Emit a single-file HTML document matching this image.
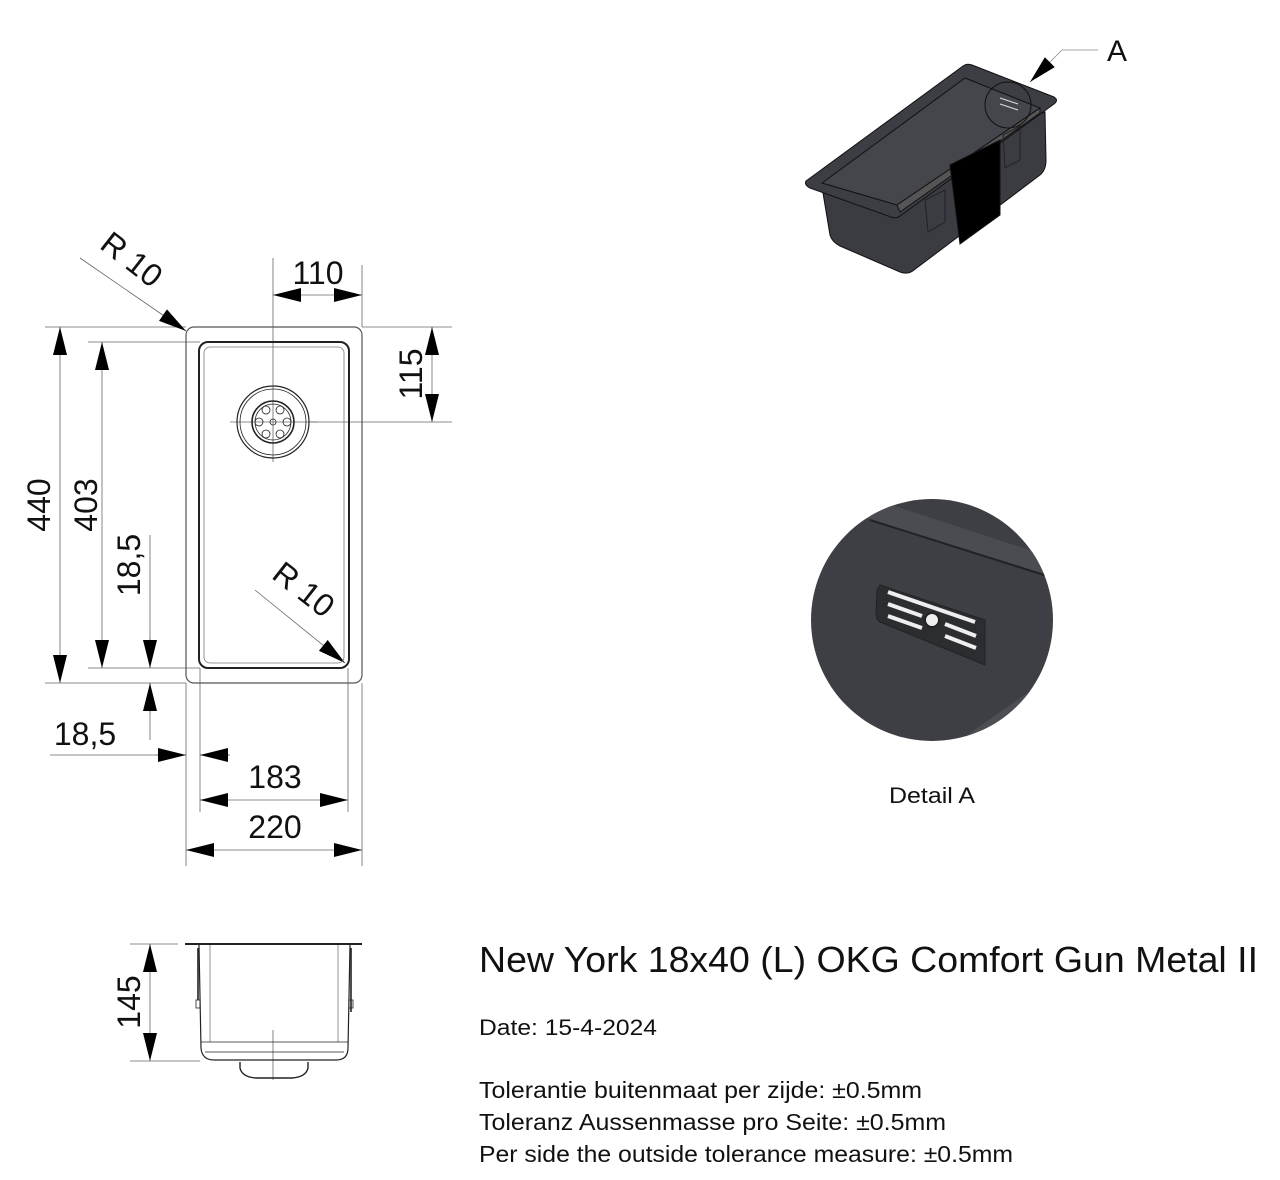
<!DOCTYPE html>
<html><head><meta charset="utf-8"><style>
html,body{margin:0;padding:0;background:#fff;width:1280px;height:1180px;overflow:hidden}
svg{display:block}
text{font-family:"Liberation Sans",Arial,sans-serif;fill:#111}
</style></head><body>
<svg width="1280" height="1180" viewBox="0 0 1280 1180" xmlns="http://www.w3.org/2000/svg">
<defs>
<marker id="a" viewBox="0 0 28 14" refX="28" refY="7" markerWidth="28" markerHeight="14" markerUnits="userSpaceOnUse" orient="auto-start-reverse"><path d="M0,0 L28,7 L0,14 Z" fill="#000"/></marker>
</defs>
<g stroke="#666" stroke-width="0.8" fill="none">
<line x1="273" y1="258" x2="273" y2="462"/>
<line x1="362" y1="265" x2="362" y2="327"/>
<line x1="362" y1="327" x2="452" y2="327"/>
<line x1="310" y1="422" x2="452" y2="422"/>
<line x1="45" y1="327" x2="186" y2="327"/>
<line x1="88" y1="342" x2="200" y2="342"/>
<line x1="88" y1="668" x2="200" y2="668"/>
<line x1="45" y1="683" x2="186" y2="683"/>
<line x1="186" y1="683" x2="186" y2="866"/>
<line x1="362" y1="683" x2="362" y2="866"/>
<line x1="200" y1="668" x2="200" y2="812"/>
<line x1="348" y1="668" x2="348" y2="812"/>
<line x1="150" y1="535" x2="150" y2="668"/>
<line x1="150" y1="683" x2="150" y2="740"/>
<line x1="50" y1="755" x2="186" y2="755"/>
<line x1="200" y1="755" x2="230" y2="755"/>
<line x1="230" y1="422" x2="318" y2="422"/>
<line x1="130" y1="944" x2="178" y2="944"/>
<line x1="130" y1="1061" x2="200" y2="1061"/>
<line x1="273" y1="1030" x2="273" y2="1080"/>
</g>
<g stroke="#666" stroke-width="0.8" fill="none">
<line x1="273" y1="295" x2="362" y2="295" marker-start="url(#a)" marker-end="url(#a)"/>
<line x1="432" y1="327" x2="432" y2="422" marker-start="url(#a)" marker-end="url(#a)"/>
<line x1="60" y1="327" x2="60" y2="683" marker-start="url(#a)" marker-end="url(#a)"/>
<line x1="102" y1="342" x2="102" y2="668" marker-start="url(#a)" marker-end="url(#a)"/>
<line x1="150" y1="638" x2="150" y2="668" marker-end="url(#a)"/>
<line x1="150" y1="713" x2="150" y2="683" marker-end="url(#a)"/>
<line x1="156" y1="755" x2="186" y2="755" marker-end="url(#a)"/>
<line x1="230" y1="755" x2="200" y2="755" marker-end="url(#a)"/>
<line x1="200" y1="800" x2="348" y2="800" marker-start="url(#a)" marker-end="url(#a)"/>
<line x1="186" y1="850" x2="362" y2="850" marker-start="url(#a)" marker-end="url(#a)"/>
<line x1="80" y1="258" x2="186" y2="331" marker-end="url(#a)"/>
<line x1="255" y1="590" x2="345" y2="663" marker-end="url(#a)"/>
<line x1="150" y1="944" x2="150" y2="1061" marker-start="url(#a)" marker-end="url(#a)"/>
</g>
<g fill="none" stroke="#222">
<rect x="186" y="327" width="176" height="356" rx="8" stroke-width="1.2" stroke="#555"/>
<rect x="199" y="342" width="150" height="326" rx="9" stroke-width="2"/>
<rect x="204" y="347" width="140" height="316" rx="6" stroke-width="0.8" stroke="#777"/>
<circle cx="273" cy="422" r="36" stroke-width="1.2"/>
<circle cx="273" cy="422" r="33" stroke-width="0.8"/>
<circle cx="273" cy="422" r="21" stroke-width="1.6"/>
<circle cx="273" cy="422" r="18" stroke-width="0.8"/>
<circle cx="273" cy="422" r="3" stroke-width="0.8"/>
<circle cx="266" cy="410" r="4" stroke-width="0.8"/><circle cx="280" cy="410" r="4" stroke-width="0.8"/>
<circle cx="266" cy="434" r="4" stroke-width="0.8"/><circle cx="280" cy="434" r="4" stroke-width="0.8"/>
<circle cx="259" cy="422" r="4" stroke-width="0.8"/><circle cx="287" cy="422" r="4" stroke-width="0.8"/>
</g>
<g fill="none" stroke="#222">
<line x1="185" y1="944" x2="362" y2="944" stroke-width="2"/>
<path d="M199,945 L201,1048 Q202,1060 214,1060 L336,1060 Q348,1060 348,1048 L350,945" stroke-width="1.2"/>
<line x1="210" y1="945" x2="210" y2="1042" stroke-width="0.8" stroke="#777"/>
<line x1="338" y1="945" x2="338" y2="1042" stroke-width="0.8" stroke="#777"/>
<line x1="201" y1="1042" x2="348" y2="1042" stroke-width="0.8"/>
<line x1="205" y1="1052" x2="344" y2="1052" stroke-width="0.8"/>
<rect x="196" y="1000" width="4" height="8" stroke-width="0.8"/>
<rect x="349" y="1000" width="4" height="8" stroke-width="0.8"/>
<line x1="198" y1="948" x2="198" y2="1000" stroke-width="1.6"/>
<line x1="351" y1="948" x2="351" y2="1012" stroke-width="1.6"/>
<path d="M240,1062 L240,1068 Q242,1077 256,1078 L292,1078 Q306,1077 308,1068 L308,1062" stroke-width="1.4"/>
</g>
<g font-size="32">
<text x="318" y="284" text-anchor="middle">110</text>
<text transform="translate(422,374) rotate(-90)" text-anchor="middle">115</text>
<text transform="translate(50,505) rotate(-90)" text-anchor="middle">440</text>
<text transform="translate(97,505) rotate(-90)" text-anchor="middle">403</text>
<text transform="translate(140,565) rotate(-90)" text-anchor="middle">18,5</text>
<text x="85" y="745" text-anchor="middle">18,5</text>
<text x="275" y="788" text-anchor="middle">183</text>
<text x="275" y="838" text-anchor="middle">220</text>
<text transform="translate(140,1002) rotate(-90)" text-anchor="middle">145</text>
<text transform="translate(125,268) rotate(38)" text-anchor="middle">R   10</text>
<text transform="translate(297,598) rotate(38)" text-anchor="middle">R   10</text>
</g>
<g stroke="#111" stroke-width="1">
<path d="M823,193 L830,235 Q832,242 840,246 L900,272 Q908,275 914,270 L1040,175 Q1046,170 1046,160 L1045,112 Z" fill="#3a3c42"/>
<path d="M806,181 L963,66 Q967,63 972,65 L1054,97 Q1059,100 1054,104 L900,216 Q896,219 891,217 L810,188 Q804,185 806,181 Z" fill="#3c3e44"/>
<path d="M822,183 L965,78 L1040,108 L897,205 Z" fill="#44464c"/>
<path d="M897,205 L1040,108 L1040,113 L900,212 Z" fill="#555"/>
<path d="M950,165 L1000,140 L1000,215 L960,244 Z" fill="#000"/>
<path d="M925,200 L945,190 L945,222 L928,232 Z" fill="none" stroke="#222"/>
<path d="M1003,135 L1020,126 L1020,160 L1005,168 Z" fill="none" stroke="#222"/>
<circle cx="1008" cy="105" r="23" fill="none" stroke="#111"/>
<path d="M1000,98 L1018,104 M1000,104 L1018,110" stroke="#ddd"/>
</g>
<line x1="1098" y1="50" x2="1062" y2="50" stroke="#888" stroke-width="0.8"/>
<line x1="1062" y1="50" x2="1030" y2="82" stroke="#888" stroke-width="0.8" marker-end="url(#a)"/>
<text x="1117" y="61" text-anchor="middle" font-size="30">A</text>
<defs><clipPath id="c"><circle cx="932" cy="620" r="121"/></clipPath></defs>
<circle cx="932" cy="620" r="121" fill="#3d3f44"/>
<g clip-path="url(#c)">
<path d="M870,498 L1060,560 L1060,580 L870,520 Z" fill="#4a4c52"/>
<path d="M870,520 L1060,580" stroke="#222" stroke-width="2"/>
<path d="M960,740 L1060,670 L1060,760 Z" fill="#4c4e54"/>
<path d="M880,585 L985,620 L985,665 L880,622 Q876,620 876,612 L877,590 Z" fill="#2c2d31" stroke="#222"/>
<path d="M888,592 L975,622 M888,604 L922,616 M945,624 L976,636 M888,616 L922,628 M945,636 L976,648" stroke="#eee" stroke-width="4"/>
<circle cx="932" cy="620" r="7" fill="#eee" stroke="#222" stroke-width="2"/>
</g>
<text x="932" y="803" text-anchor="middle" font-size="22" textLength="86" lengthAdjust="spacingAndGlyphs">Detail A</text>
<text x="479" y="972" font-size="36" textLength="779" lengthAdjust="spacingAndGlyphs">New York 18x40 (L) OKG Comfort Gun Metal II</text>
<text x="479" y="1035" font-size="22" textLength="178" lengthAdjust="spacingAndGlyphs">Date: 15-4-2024</text>
<text x="479" y="1098" font-size="23" textLength="443" lengthAdjust="spacingAndGlyphs">Tolerantie buitenmaat per zijde: ±0.5mm</text>
<text x="479" y="1130" font-size="23" textLength="467" lengthAdjust="spacingAndGlyphs">Toleranz Aussenmasse pro Seite: ±0.5mm</text>
<text x="479" y="1162" font-size="23" textLength="534" lengthAdjust="spacingAndGlyphs">Per side the outside tolerance measure: ±0.5mm</text>
</svg>
</body></html>
